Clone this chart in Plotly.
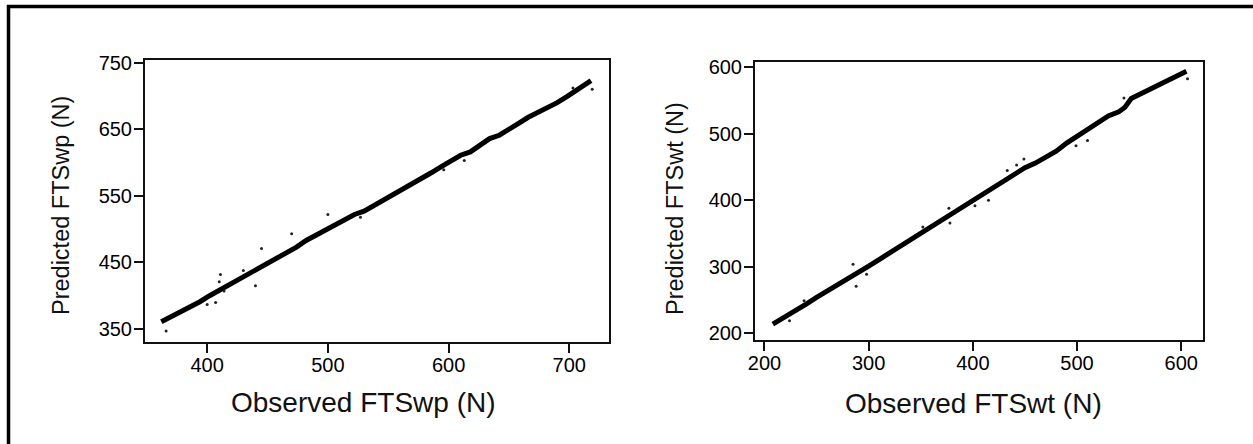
import plotly.graph_objects as go

# ---- Left panel: FTSwp (observed vs predicted), main trend
wp_obs = [362, 370, 378, 386, 394, 402, 410, 418, 426, 434, 442, 450, 458, 466,
          474, 482, 490, 498, 506, 514, 522, 530, 538, 546, 554, 562, 570, 578,
          586, 594, 602, 610, 618, 626, 634, 642, 650, 658, 666, 674, 682, 690,
          698, 706, 714, 718]
wp_pred = [361, 368, 375, 383, 391, 400, 408, 416, 424, 432, 441, 450, 457, 465,
           473, 483, 491, 498, 505, 514, 522, 527, 535, 545, 552, 560, 568, 576,
           585, 594, 603, 611, 616, 626, 636, 641, 651, 659, 668, 675, 683, 690,
           699, 708, 718, 723]
# scattered outliers (left panel)
wp_out_obs = [366, 400, 407, 411, 410, 414, 440, 445, 470, 500, 527, 596, 613, 719, 703, 430]
wp_out_pred = [347, 387, 390, 432, 421, 407, 415, 471, 493, 522, 518, 589, 603, 710, 712, 438]

# ---- Right panel: FTSwt
wt_obs = [208, 216, 224, 232, 240, 250, 260, 270, 280, 290, 300, 310, 320, 330,
          340, 350, 360, 370, 380, 390, 400, 410, 420, 430, 440, 450, 460, 470,
          480, 490, 500, 510, 520, 530, 540, 546, 552, 560, 570, 580, 590, 600, 605]
wt_pred = [214, 221, 229, 236, 244, 254, 263, 272, 282, 291, 301, 311, 321, 331,
           341, 351, 361, 369, 381, 391, 401, 411, 421, 430, 440, 449, 456, 465,
           474, 486, 496, 506, 516, 527, 533, 540, 553, 559, 567, 575, 583, 591, 594]
wt_out_obs = [224, 238, 285, 288, 298, 352, 377, 378, 402, 415, 433, 442, 449, 499, 510, 545, 606]
wt_out_pred = [219, 249, 304, 271, 289, 360, 388, 366, 392, 400, 445, 453, 462, 482, 490, 554, 583]

wp_xticks = [400, 500, 600, 700]
wp_yticks = [350, 450, 550, 650, 750]
wt_xticks = [200, 300, 400, 500, 600]
wt_yticks = [200, 300, 400, 500, 600]

W, H = 1253, 444
FONT = "Liberation Sans, Arial, sans-serif"

fig = go.Figure()

fig.add_trace(go.Scatter(x=wp_obs, y=wp_pred, mode="lines",
                         line=dict(color="black", width=5), xaxis="x", yaxis="y",
                         showlegend=False, hoverinfo="skip"))
fig.add_trace(go.Scatter(x=wp_out_obs, y=wp_out_pred, mode="markers",
                         marker=dict(color="#222", size=3), xaxis="x", yaxis="y",
                         showlegend=False))
fig.add_trace(go.Scatter(x=wt_obs, y=wt_pred, mode="lines",
                         line=dict(color="black", width=5), xaxis="x2", yaxis="y2",
                         showlegend=False, hoverinfo="skip"))
fig.add_trace(go.Scatter(x=wt_out_obs, y=wt_out_pred, mode="markers",
                         marker=dict(color="#222", size=3), xaxis="x2", yaxis="y2",
                         showlegend=False))

def px_x(p):
    return p / W

def px_y(p):
    return 1 - p / H

axis_common = dict(showgrid=False, zeroline=False, showline=True, linecolor="#111",
                   linewidth=2, mirror=True, ticks="outside", ticklen=9, tickwidth=1.5,
                   tickcolor="#111", automargin=False,
                   tickfont=dict(family=FONT, size=20, color="black"))

fig.update_layout(
    template="none",
    width=W, height=H, autosize=False,
    margin=dict(l=0, r=0, t=0, b=0, pad=0),
    paper_bgcolor="white", plot_bgcolor="white",
    xaxis=dict(domain=[px_x(145), px_x(609)], range=[348.5, 732.9],
               tickvals=wp_xticks, anchor="y", ticklabelstandoff=-5, **axis_common),
    yaxis=dict(domain=[px_y(342), px_y(60)], range=[330.5, 754],
               tickvals=wp_yticks, anchor="x", ticklabelstandoff=-2, **axis_common),
    xaxis2=dict(domain=[px_x(755), px_x(1202.5)], range=[190.9, 620.4],
                tickvals=wt_xticks, anchor="y2", ticklabelstandoff=-5, **axis_common),
    yaxis2=dict(domain=[px_y(340), px_y(62)], range=[190, 608],
                tickvals=wt_yticks, anchor="x2", ticklabelstandoff=-2, **axis_common),
)

title_font = dict(family=FONT, size=28, color="#111")
ytitle_font = dict(family=FONT, size=23.5, color="#111")
fig.add_annotation(text="Observed FTSwp (N)", x=px_x(363), y=px_y(402), xref="paper", yref="paper",
                   showarrow=False, font=title_font, xanchor="center", yanchor="middle")
fig.add_annotation(text="Observed FTSwt (N)", x=px_x(973), y=px_y(403), xref="paper", yref="paper",
                   showarrow=False, font=title_font, xanchor="center", yanchor="middle")
fig.add_annotation(text="Predicted FTSwp (N)", x=px_x(61), y=px_y(206), xref="paper", yref="paper",
                   showarrow=False, font=ytitle_font, textangle=-90, xanchor="center", yanchor="middle")
fig.add_annotation(text="Predicted FTSwt (N)", x=px_x(675), y=px_y(209), xref="paper", yref="paper",
                   showarrow=False, font=ytitle_font, textangle=-90, xanchor="center", yanchor="middle")

# outer frame (top and left edges visible)
fig.add_shape(type="line", xref="paper", yref="paper", x0=px_x(7), x1=1.01, y0=px_y(6.5), y1=px_y(6.5),
              line=dict(color="black", width=3.5))
fig.add_shape(type="line", xref="paper", yref="paper", x0=px_x(8.5), x1=px_x(8.5), y0=px_y(5), y1=-0.01,
              line=dict(color="black", width=3.5))

page_fix = ("document.documentElement.style.margin='0';document.body.style.margin='0';"
            "document.documentElement.style.padding='0';document.body.style.padding='0';"
            "document.documentElement.style.overflow='hidden';document.body.style.overflow='hidden';"
            "window.scrollTo(0,0);")
fig.write_html("out.html", post_script=page_fix, config={"displayModeBar": False})
